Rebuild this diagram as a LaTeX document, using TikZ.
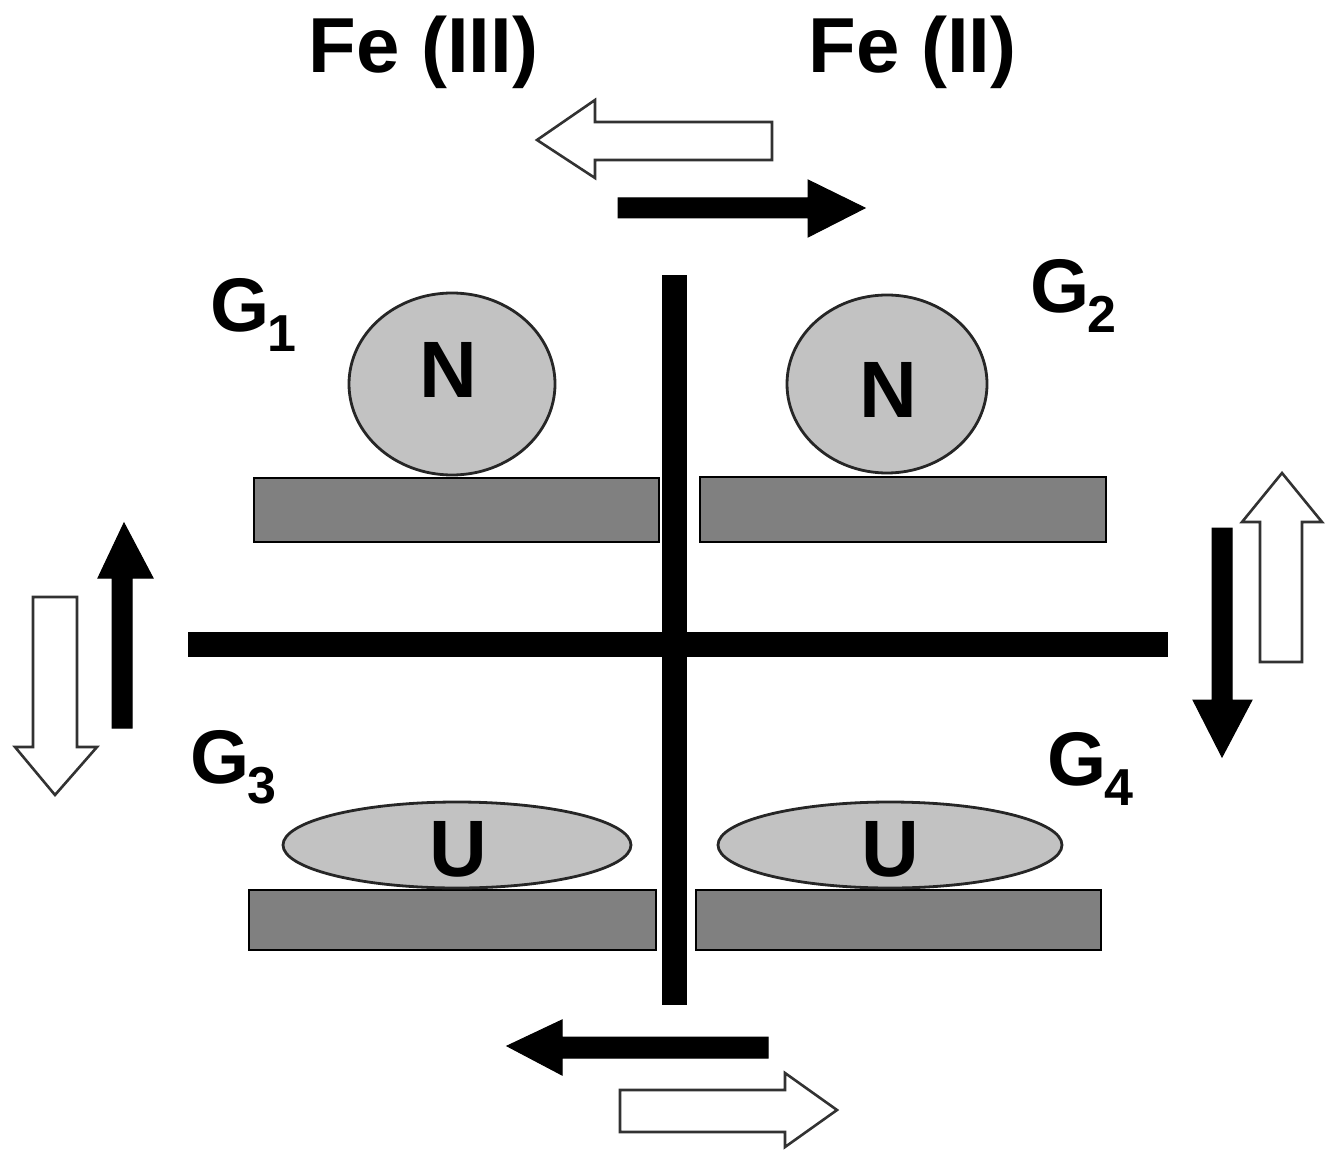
\documentclass[tikz,border=0pt]{standalone}
\usepackage{fontspec}
\setmainfont{Liberation Sans}
\definecolor{platecol}{RGB}{128,128,128}
\definecolor{blobcol}{RGB}{194,194,194}
\definecolor{hollowedge}{RGB}{50,50,50}
\tikzset{
  plate/.style={draw=black, line width=1.4pt, fill=platecol},
  blob/.style={draw=black!85, line width=1.4pt, fill=blobcol},
  bar/.style={fill=black},
  solidarrow/.style={fill=black, draw=black, line width=0.5pt, line join=miter},
  hollowarrow/.style={fill=white, draw=hollowedge, line width=1.3pt, line join=miter},
  bigtxt/.style={inner sep=0pt, font=\bfseries\fontsize{39}{39}\selectfont},
  gtxt/.style={inner sep=0pt, anchor=base west, font=\bfseries\fontsize{38}{38}\selectfont},
  lettertxt/.style={inner sep=0pt, anchor=base, font=\bfseries\fontsize{40}{40}\selectfont}
}
\newcommand{\gsub}[1]{\kern-1pt\raisebox{-10pt}{\fontsize{26}{26}\selectfont #1}}
\begin{document}
\begin{tikzpicture}[x=0.5pt,y=-0.5pt]
\useasboundingbox (0,0) rectangle (1331,1154);
% plates
\draw[plate] (254,478) rectangle (659,542);
\draw[plate] (700,477) rectangle (1106,542);
\draw[plate] (249,890) rectangle (656,950);
\draw[plate] (696,890) rectangle (1101,950);
% N and U blobs
\draw[blob] (452,384) ellipse [x radius=103, y radius=91];
\draw[blob] (887,384) ellipse [x radius=100, y radius=89];
\draw[blob] (457,845) ellipse [x radius=174, y radius=43];
\draw[blob] (890,845) ellipse [x radius=172, y radius=43];
% bars
\fill[bar] (188,632) rectangle (1168,657);
\fill[bar] (662,275) rectangle (687,1005);
% letters
\node[lettertxt] (n1) at (448,398) {N};
\node[lettertxt] (n2) at (888,418) {N};
\node[lettertxt] (u1) at (458,876) {U};
\node[lettertxt] (u2) at (890,876) {U};
% labels
\node[bigtxt, anchor=base west] (fe3) at (308,73) {Fe (III)};
\node[bigtxt, anchor=base west] (fe2) at (808,73) {Fe (II)};
\node[gtxt] (g1) at (210,332) {G\gsub{1}};
\node[gtxt] (g2) at (1030,313) {G\gsub{2}};
\node[gtxt] (g3) at (190,783) {G\gsub{3}};
\node[gtxt] (g4) at (1047,785) {G\gsub{4}};
% top arrows
\draw[hollowarrow] (772,122) -- (595,122) -- (595,100) -- (537,140) -- (595,178) -- (595,160) -- (772,160) -- cycle;
\draw[solidarrow] (618,198) -- (808,198) -- (808,180) -- (865,208) -- (808,237) -- (808,218) -- (618,218) -- cycle;
% bottom arrows
\draw[solidarrow] (768,1037) -- (562,1037) -- (562,1020) -- (507,1046) -- (562,1075) -- (562,1058) -- (768,1058) -- cycle;
\draw[hollowarrow] (620,1090) -- (785,1090) -- (785,1073) -- (837,1110) -- (785,1147) -- (785,1132) -- (620,1132) -- cycle;
% left arrows
\draw[hollowarrow] (33,597) -- (77,597) -- (77,747) -- (97,747) -- (55,795) -- (15,747) -- (33,747) -- cycle;
\draw[solidarrow] (112,728) -- (132,728) -- (132,578) -- (153,578) -- (124,523) -- (98,578) -- (112,578) -- cycle;
% right arrows
\draw[solidarrow] (1212,528) -- (1232,528) -- (1232,700) -- (1252,700) -- (1222,757) -- (1193,700) -- (1212,700) -- cycle;
\draw[hollowarrow] (1260,662) -- (1302,662) -- (1302,522) -- (1322,522) -- (1282,473) -- (1242,522) -- (1260,522) -- cycle;
\end{tikzpicture}
\end{document}
